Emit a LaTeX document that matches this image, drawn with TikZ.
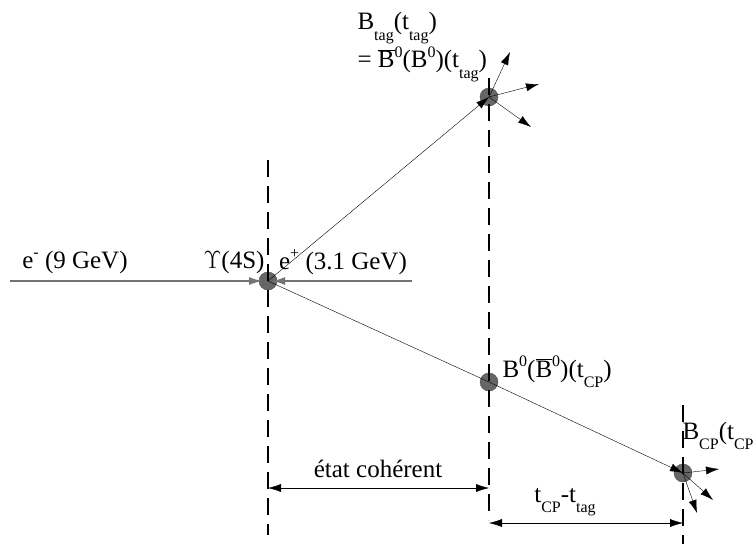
\documentclass[tikz,border=0pt]{standalone}
\usepackage{fontspec}
\setmainfont{Liberation Serif}
\usetikzlibrary{arrows.meta}
\newcommand{\dn}[1]{\raisebox{-0.42em}{\fontsize{16}{16}\selectfont #1}}
\newcommand{\up}[1]{\raisebox{0.42em}{\fontsize{16}{16}\selectfont #1}}
\newcommand{\Bbar}{$\overline{\mbox{B}}$}

\begin{document}
\begin{tikzpicture}[x=1pt,y=-1pt,font=\fontsize{25}{27}\selectfont,
    tip/.style={-{Latex[length=13pt,width=8pt]}},
    meson/.style={circle,draw=black!70,fill=black!60,minimum size=18pt,inner sep=0pt},
    cut/.style={line width=1.4pt,dash pattern=on 17pt off 9pt}]
  \useasboundingbox (0,0) rectangle (754,544);
  % vertices
  \node[meson] (ups) at (268,281) {};
  \node[meson] (btag) at (489,97) {};
  \node[meson] (bzero) at (489,382) {};
  \node[meson] (bcp) at (683,473) {};
  % time cuts
  \draw[cut] (268,160) -- (268,535);
  \draw[cut] (489,78) -- (489,520);
  \draw[cut] (683,405) -- (683,544);
  % beams
  \coordinate (eminus) at (10,281);
  \coordinate (eplus) at (412,281);
  \draw[black!55,line width=1.2pt,tip,shorten >=6pt] (eminus) -- (ups.center);
  \draw[black!55,line width=1.2pt,tip,shorten >=-5pt] (eplus) -- (ups.east);
  \node (lem) at (75,262) {e\up{-} (9 GeV)};
  \node (lups) at (234,262) {$\Upsilon$(4S)};
  \node (lep) at (343,262) {e\up{+} (3.1 GeV)};
  % B mesons
  \draw[tip] (ups.center) -- (btag.center);
  \draw (ups.center) -- (bzero.center);
  \draw[tip] (bzero.center) -- (bcp.center);
  % decay products
  \coordinate (ta) at (510,52);
  \coordinate (tb) at (539,84);
  \coordinate (tc) at (531,127);
  \coordinate (ca) at (719,469);
  \coordinate (cb) at (713,500);
  \coordinate (cc) at (697,513);
  \foreach \d in {ta,tb,tc}
    \draw[tip] (btag.center) -- (\d);
  \foreach \d in {ca,cb,cc}
    \draw[tip] (bcp.center) -- (\d);
  \node[anchor=west] (ltag) at (354,28) {B\dn{tag}(t\dn{tag})};
  \node[anchor=west] (lmix) at (354,64) {= \Bbar\up{0}(B\up{0})(t\dn{tag})};
  \node[anchor=west] (lzero) at (499,372) {B\up{0}(\Bbar\up{0})(t\dn{CP})};
  \node[anchor=west] (lcp) at (679,436) {B\dn{CP}(t\dn{CP})};
  % intervals
  \coordinate (ca1) at (268,488);
  \coordinate (ca2) at (489,488);
  \coordinate (cb1) at (489,523);
  \coordinate (cb2) at (683,523);
  \draw[{Latex[length=13pt,width=8pt]}-{Latex[length=13pt,width=8pt]}] (ca1) -- (ca2);
  \draw[{Latex[length=13pt,width=8pt]}-{Latex[length=13pt,width=8pt]}] (cb1) -- (cb2);
  \node (lcoh) at (378,469) {état cohérent};
  \node (ldt) at (565,502) {t\dn{CP}-t\dn{tag}};
\end{tikzpicture}
\end{document}
